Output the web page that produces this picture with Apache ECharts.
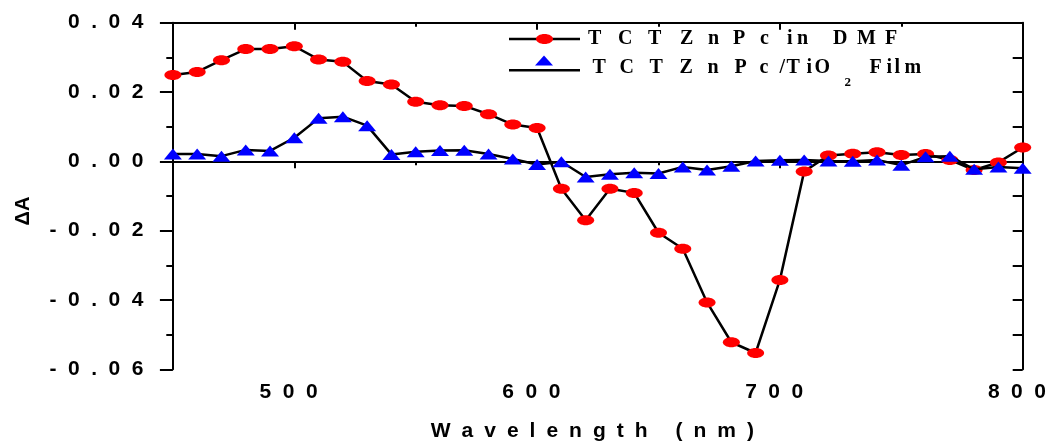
<!DOCTYPE html>
<html><head><meta charset="utf-8">
<script src="https://cdn.jsdelivr.net/npm/echarts@6/dist/echarts.min.js"></script>
<style>html,body{margin:0;padding:0;background:#fff}#c{width:1052px;height:444px}</style>
</head><body><div id="c"></div>
<script>
// ---------------- data ----------------
const wavelength = [450,460,470,480,490,500,510,520,530,540,550,560,570,580,590,600,610,620,630,640,650,660,670,680,690,700,710,720,730,740,750,760,770,780,790,800];
const dmf = [0.0249,0.0258,0.0292,0.0324,0.0324,0.0332,0.0294,0.0287,0.0232,0.0222,0.0172,0.0162,0.0160,0.0136,0.0106,0.0096,-0.0079,-0.0170,-0.0079,-0.0091,-0.0206,-0.0252,-0.0407,-0.0522,-0.0553,-0.0342,-0.0029,0.0017,0.0022,0.0026,0.0018,0.0021,0.0004,-0.0025,-0.0003,0.0040];
const film = [0.0021,0.0021,0.0015,0.0033,0.0030,0.0068,0.0124,0.0129,0.0103,0.0020,0.0028,0.0031,0.0032,0.0021,0.0007,-0.0009,-0.0001,-0.0045,-0.0037,-0.0033,-0.0035,-0.0016,-0.0025,-0.0014,0.0001,0.0003,0.0004,0.0001,0.0000,0.0004,-0.0011,0.0013,0.0015,-0.0023,-0.0016,-0.0020];
const seriesNames = ['TCTZnPc in DMF', 'TCTZnPc/TiO2 Film'];
const xTickLabels = [500, 600, 700, 800];
const yTickLabels = [-0.06, -0.04, -0.02, 0.00, 0.02, 0.04];
const xTitle = 'Wavelength (nm)';
const yTitle = 'ΔA';

// ---------------- text helpers ----------------
const SANS = 'Liberation Sans';
const SERIF = 'Liberation Serif';
const mctx = document.createElement('canvas').getContext('2d');
function spacedRich(text, o, rich) {
  mctx.font = o.weight + ' ' + o.size + 'px "' + o.family + '"';
  return Array.from(text).map(function (ch) {
    const key = o.prefix + ch.codePointAt(0);
    if (!rich[key]) {
      rich[key] = { width: mctx.measureText(ch).width + o.spacing, align: 'left',
        fontSize: o.size, fontWeight: o.weight, fontFamily: o.family, color: '#000', lineHeight: o.size + 2 };
    }
    return '{' + key + '|' + ch + '}';
  }).join('');
}

const xLabRich = {}, yLabRich = {}, xNameRich = {};
const xLabMap = {}, yLabMap = {};
const labOpt = { size: 21, weight: 'bold', family: SANS, spacing: 11.5 };
xTickLabels.forEach(function (v) { xLabMap[v] = spacedRich(String(v), Object.assign({prefix: 'x'}, labOpt), xLabRich); });
yTickLabels.forEach(function (v) { yLabMap[Math.round(v * 100)] = spacedRich(v.toFixed(2), Object.assign({prefix: 'y'}, labOpt), yLabRich); });
const xNameStr = spacedRich(xTitle, { size: 21, weight: 'bold', family: SANS, spacing: 11, prefix: 'n' }, xNameRich);

// legend rich text: per-character advances
function legendRich(tokens, rowStyle) {
  const rich = {}; let s = '';
  tokens.forEach(function (t, i) {
    const key = 't' + i;
    const sub = t[2] === 'sub';
    rich[key] = Object.assign({ width: t[1], align: 'left', fontFamily: SERIF, fontWeight: 'bold', color: '#000',
      fontSize: sub ? 13 : 20, lineHeight: sub ? 13 : 20 }, sub ? rowStyle.sub : rowStyle.normal);
    s += '{' + key + '|' + t[0] + '}';
  });
  return { str: s, rich: rich };
}
const leg1 = legendRich([['T',30],['C',30],['T',32],['Z',28],['n',25],['P',27],['c',22],[' ',5],['i',10],['n',11],[' ',25],['D',24],['M',28],['F',14]],
  { normal: {}, sub: {} });
const leg2 = legendRich([['T',27],['C',30],['T',30],['Z',28],['n',27],['P',25],['c',20],['/',7],['T',20],['i',8],['O',30],['2',20,'sub'],[' ',5],['F',17],['i',8],['l',10],['m',16]],
  { normal: { verticalAlign: 'top', padding: [7.5, 0, 0, 0] }, sub: { verticalAlign: 'top', padding: [26, 0, 0, 0] } });

// ---------------- chart ----------------
const chart = echarts.init(document.getElementById('c'), null, { renderer: 'canvas' });
const BLK = '#000';
const ellipse = 'path://M0,5C0,2.24 3.81,0 8.5,0C13.19,0 17,2.24 17,5C17,7.76 13.19,10 8.5,10C3.81,10 0,7.76 0,5Z';
const tri = 'path://M0,10L9,0L18,10Z';
const RED = '#ff0000', BLUE = '#0000ff';

const baseX = { type: 'value', min: 450, max: 800, interval: 50, splitLine: { show: false } };
const baseY = { type: 'value', min: -0.06, max: 0.04, interval: 0.02, splitLine: { show: false } };

// legend rows: a black line legend plus a marker legend on top of it
function lineLegend(name, top) {
  return { data: [name], left: 509, top: top, padding: 0, itemWidth: 71, itemHeight: 2.5, icon: 'rect',
    itemStyle: { color: BLK, borderWidth: 0 }, selectedMode: false, formatter: function () { return ''; }, z: 4 };
}
function markLegend(name, top, icon, w, h, color, leg, padLeft) {
  return { data: [name], left: 509 + (71 - w) / 2, top: top, padding: 0, itemWidth: w, itemHeight: h, icon: icon,
    itemStyle: { color: color, borderWidth: 0 }, selectedMode: false, z: 5,
    formatter: function () { return leg.str; }, textStyle: { rich: leg.rich, padding: [0, 0, 0, padLeft] } };
}

chart.setOption({
  animation: false,
  backgroundColor: '#fff',
  grid: { left: 172.9, right: 29.3, top: 22.7, bottom: 74.7, outerBoundsMode: 'none' },
  legend: [
    lineLegend(seriesNames[0], 37.8),
    markLegend(seriesNames[0], 29, ellipse, 17, 10, RED, leg1, 30),
    lineLegend(seriesNames[1], 69),
    markLegend(seriesNames[1], 50.5, tri, 19, 10, BLUE, leg2, 34)
  ],
  xAxis: [
    Object.assign({}, baseX, {
      position: 'bottom',
      name: xNameStr, nameLocation: 'middle', nameGap: 50, nameTextStyle: { rich: xNameRich },
      axisLine: { show: true, lineStyle: { color: BLK, width: 2 } },
      axisTick: { show: true, inside: false, length: 7, customValues: [450, 500, 600, 700, 800], lineStyle: { color: BLK, width: 2 } },
      axisLabel: { show: true, margin: 11, customValues: xTickLabels, formatter: function (v) { return xLabMap[Math.round(v)] || ''; }, rich: xLabRich }
    }),
    Object.assign({}, baseX, {
      position: 'bottom',
      axisLine: { show: false },
      axisTick: { show: true, inside: false, length: 4, customValues: [550, 650, 750], lineStyle: { color: BLK, width: 2 } },
      axisLabel: { show: false }
    }),
    Object.assign({}, baseX, {
      position: 'top',
      axisLine: { show: true, lineStyle: { color: BLK, width: 2 } },
      axisTick: { show: true, inside: true, length: 7, customValues: [500, 600, 700], lineStyle: { color: BLK, width: 2 } },
      axisLabel: { show: false }
    }),
    Object.assign({}, baseX, {
      position: 'top',
      axisLine: { show: false },
      axisTick: { show: true, inside: true, length: 4, customValues: [550, 650, 750], lineStyle: { color: BLK, width: 2 } },
      axisLabel: { show: false }
    })
  ],
  yAxis: [
    Object.assign({}, baseY, {
      position: 'left',
      name: yTitle, nameLocation: 'middle', nameRotate: 90, nameGap: 139,
      nameTextStyle: { fontFamily: SANS, fontWeight: 'bold', fontSize: 20, color: BLK, padding: [0, 30, 0, 0] },
      axisLine: { show: true, lineStyle: { color: BLK, width: 2 } },
      axisTick: { show: true, inside: false, length: 13, lineStyle: { color: BLK, width: 2 } },
      minorTick: { show: true, splitNumber: 2, length: 6.6, lineStyle: { color: BLK, width: 2 } },
      minorSplitLine: { show: false },
      axisLabel: { show: true, margin: 18, formatter: function (v) { return yLabMap[Math.round(v * 100)] || ''; }, rich: yLabRich }
    }),
    Object.assign({}, baseY, {
      position: 'right',
      axisLine: { show: true, lineStyle: { color: BLK, width: 2 } },
      axisTick: { show: true, inside: true, length: 10, lineStyle: { color: BLK, width: 2 } },
      minorTick: { show: true, splitNumber: 2, length: 10, lineStyle: { color: BLK, width: 2 } },
      minorSplitLine: { show: false },
      axisLabel: { show: false }
    })
  ],
  series: [
    { name: seriesNames[0], type: 'line', xAxisIndex: 0, yAxisIndex: 0, silent: true,
      data: wavelength.map(function (w, i) { return [w, dmf[i]]; }),
      symbol: ellipse, symbolSize: [17, 10], showSymbol: true,
      itemStyle: { color: RED, borderWidth: 0 },
      lineStyle: { color: BLK, width: 2.5 }, z: 2 },
    { name: seriesNames[1], type: 'line', xAxisIndex: 0, yAxisIndex: 0, silent: true,
      data: wavelength.map(function (w, i) { return [w, film[i]]; }),
      symbol: 'triangle', symbolSize: [18, 11], showSymbol: true,
      itemStyle: { color: BLUE, borderWidth: 0 },
      lineStyle: { color: BLK, width: 2.5 }, z: 3 }
  ]
});
</script>
</body></html>
